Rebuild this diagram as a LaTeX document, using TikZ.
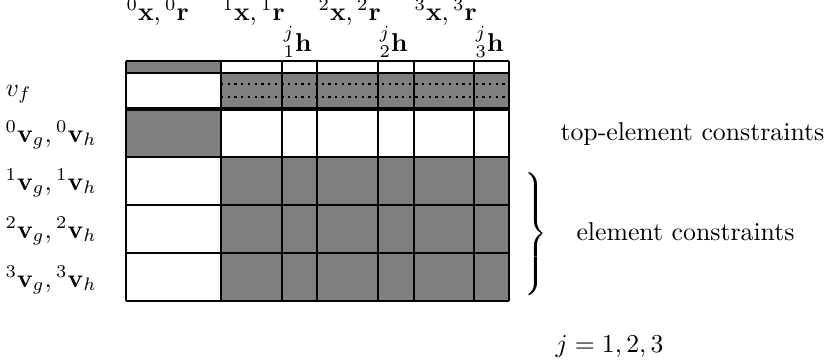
\documentclass[tikz,border=0pt]{standalone}
\usepackage{amsmath}
\usepackage{tikz}

\tikzset{
  lbl/.style={inner sep=0pt, anchor=base west},
  gridline/.style={line width=0.45pt},
  cellfill/.style={fill=gray},
}

\begin{document}
\begin{tikzpicture}[x=0.388pt, y=-0.388pt]
  \useasboundingbox (0,0) rectangle (830,360);

  % gray cells
  \fill[cellfill] (126,61) rectangle (221,73);
  \fill[cellfill] (221,73) rectangle (509,109);
  \fill[cellfill] (126,109) rectangle (221,157);
  \fill[cellfill] (221,157) rectangle (509,301);

  % dotted lines in the v_f row
  \foreach \y in {84,97}
    \draw[line width=0.4pt, dash pattern=on 0.9pt off 1.7pt] (221,\y) -- (509,\y);

  % grid
  \foreach \x in {126,221,282,317,378,414,474,509}
    \draw[gridline] (\x,61) -- (\x,301);
  \foreach \y in {61,73,157,205,253,301}
    \draw[gridline] (126,\y) -- (509,\y);
  \draw[line width=1.6pt] (126,109) -- (509,109);

  % column labels
  \node[lbl] (x0) at (126,20) {${}^0\mathbf{x},{}^0\mathbf{r}$};
  \node[lbl] (x1) at (222,20) {${}^1\mathbf{x},{}^1\mathbf{r}$};
  \node[lbl] (x2) at (318,20) {${}^2\mathbf{x},{}^2\mathbf{r}$};
  \node[lbl] (x3) at (414,20) {${}^3\mathbf{x},{}^3\mathbf{r}$};
  \node[lbl] (h1) at (283,51) {${}^j_1\mathbf{h}$};
  \node[lbl] (h2) at (379,51) {${}^j_2\mathbf{h}$};
  \node[lbl] (h3) at (475,51) {${}^j_3\mathbf{h}$};

  % row labels
  \node[lbl] (vf) at (5,96) {$v_f$};
  \node[lbl] (v0) at (5,142) {${}^0\mathbf{v}_g,{}^0\mathbf{v}_h$};
  \node[lbl] (v1) at (5,190) {${}^1\mathbf{v}_g,{}^1\mathbf{v}_h$};
  \node[lbl] (v2) at (5,238) {${}^2\mathbf{v}_g,{}^2\mathbf{v}_h$};
  \node[lbl] (v3) at (5,287) {${}^3\mathbf{v}_g,{}^3\mathbf{v}_h$};

  % right side
  \node[lbl] (top) at (560,140) {top-element constraints};
  \node[inner sep=0pt] (brace) at (534,234)
    {$\left.\vcenter{\hrule height 51pt width 0pt}\right\}$};
  \node[lbl] (elem) at (576,240) {element constraints};
  \node[lbl] (jval) at (555,352) {$j=1,2,3$};
\end{tikzpicture}
\end{document}
